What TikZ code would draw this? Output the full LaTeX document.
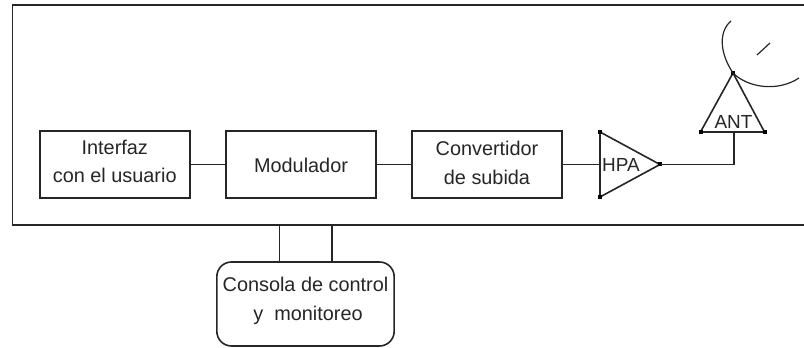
\documentclass[tikz,border=0pt]{standalone}
\usepackage{fontspec}
\setmainfont{Liberation Sans}
\tikzset{
  px/.style={x=0.75pt,y=-0.75pt},
  ln/.style={draw=black!85,line width=1.2pt,line join=miter},
  blockbox/.style={ln,minimum width=112.5pt,minimum height=50.25pt,inner sep=0pt,align=center},
  lab/.style={font=\fontsize{14.9}{19}\selectfont,text=black!85,align=center,inner sep=0pt},
  tri/.style={font=\fontsize{14.2}{19}\selectfont,text=black!85,inner sep=0pt},
  dot/.style={fill=black,inner sep=0pt,minimum size=3pt,shape=rectangle}
}
\begin{document}
\begin{tikzpicture}[px]
\useasboundingbox (0,0) rectangle (804,348);
\fill[white] (0,0) rectangle (804,348);
\coordinate (oTL) at (12.5,5);
\coordinate (oTR) at (804,5);
\coordinate (oBR) at (804,225);
\coordinate (oBL) at (12.5,225);
\draw[ln] (oTR) -- (oTL) -- (oBL) -- (oBR);
\node[blockbox] (a) at (114.75,164.5) {};
\node[blockbox] (b) at (301,164.5) {};
\node[blockbox] (c) at (487,164.5) {};
\node[lab] at (114.75,147.5) {Interfaz};
\node[lab] at (114.75,175.5) {con el usuario};
\node[lab] at (301,165) {Modulador};
\node[lab] at (487,148.5) {Convertidor};
\node[lab] at (487,177) {de subida};
\coordinate (h1) at (600,132);
\coordinate (h2) at (600,197);
\coordinate (h3) at (660,164.5);
\draw[ln] (h1) -- (h3) -- (h2) -- cycle;
\node[tri] at (621,165) {HPA};
\coordinate (a1) at (733,73);
\coordinate (a2) at (700.5,132);
\coordinate (a3) at (764.5,132);
\draw[ln] (a1) -- (a2) -- (a3) -- cycle;
\node[tri] at (733.5,122) {ANT};
\foreach \p in {h1,h2,h3,a1,a2,a3} \node[dot] at (\p) {};
\coordinate (hm) at (600,164.5);
\coordinate (am) at (734,132);
\coordinate (corner) at (734,164.5);
\draw[ln] (a) -- (b);
\draw[ln] (b) -- (c);
\draw[ln] (c.east) -- (hm);
\draw[ln] (h3) -- (corner) -- (am);
\draw[ln,line width=.9pt] (731,21) .. controls (719,31) and (719,52) .. (733,73)
   .. controls (748,88) and (778,92) .. (799,78);
\draw[ln,line width=.9pt] (757,55) -- (770,43);
\node[ln,rounded corners=11pt,minimum width=133pt,minimum height=63pt,inner sep=0pt] (d) at (305.5,304) {};
\node[lab] at (305.5,284) {Consola de control};
\node[lab] at (308,315) {y\ \ monitoreo};
\coordinate (t1) at (279.5,225);
\coordinate (t2) at (332,225);
\draw[ln] (t1) -- (t1 |- d.north);
\draw[ln] (t2) -- (t2 |- d.north);
\end{tikzpicture}
\end{document}
